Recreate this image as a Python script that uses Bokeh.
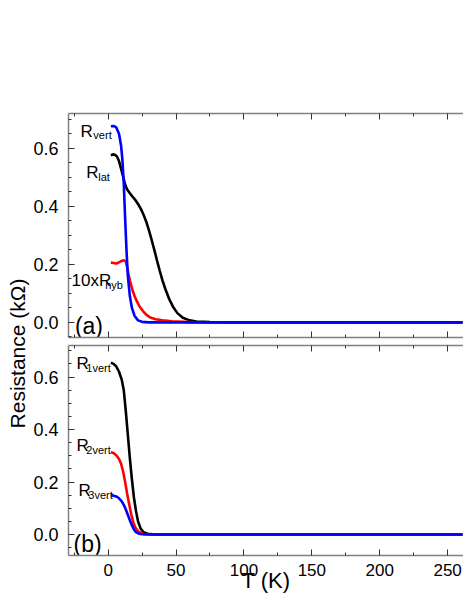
import math
from bokeh.plotting import figure
from bokeh.layouts import row, column
from bokeh.models import LinearAxis, FixedTicker
from bokeh.core.properties import value
from bokeh.embed import file_html
from bokeh.resources import INLINE

# ---------------- data ----------------
# panel (a)
t_vert = [2, 4, 6, 8, 9.5, 10.5, 11.5, 12.5, 13.5, 14.5, 16, 17.5, 19.5, 22, 25, 30, 40, 261]
r_vert = [0.676, 0.677, 0.672, 0.65, 0.61, 0.56, 0.48, 0.36, 0.25, 0.16, 0.09, 0.05, 0.022, 0.007, 0.002, 0, 0, 0]

t_lat = [2, 3.5, 5, 6.5, 8, 9.5, 11, 12.5, 14, 16, 18, 20, 22, 24, 26, 28, 30, 32, 34, 36, 38, 40, 42, 45, 48, 51, 55, 60, 65, 75, 90, 261]
r_lat = [0.576, 0.579, 0.578, 0.572, 0.556, 0.530, 0.503, 0.475, 0.458, 0.445, 0.433, 0.422, 0.408, 0.392, 0.372, 0.348,
         0.318, 0.285, 0.250, 0.213, 0.178, 0.145, 0.117, 0.080, 0.052, 0.032, 0.016, 0.007, 0.003, 0.001, 0, 0]

t_hyb = [2, 4, 6, 8, 10, 11.5, 13, 14, 15, 16, 17, 18, 19.5, 21, 23, 25.5, 28, 31, 35, 40, 47, 60, 261]
r_hyb10 = [0.206, 0.205, 0.203, 0.207, 0.212, 0.214, 0.21, 0.19, 0.167, 0.145, 0.128, 0.110, 0.090, 0.074, 0.056, 0.040,
           0.027, 0.017, 0.011, 0.007, 0.004, 0.001, 0]

# panel (b)
t_1vert = [2, 4, 6, 8, 10, 11.5, 13, 14.5, 16, 17.5, 19, 20.5, 22, 24, 26, 29, 35, 261]
r_1vert = [0.654, 0.65, 0.64, 0.62, 0.59, 0.55, 0.47, 0.38, 0.29, 0.21, 0.14, 0.09, 0.05, 0.022, 0.009, 0.003, 0, 0]

t_2vert = [2, 4, 6, 8, 9.5, 11, 12.5, 14, 15.5, 17, 18.5, 20, 22, 24, 27, 35, 261]
r_2vert = [0.314, 0.31, 0.302, 0.288, 0.27, 0.24, 0.20, 0.155, 0.115, 0.077, 0.047, 0.027, 0.012, 0.005, 0.001, 0, 0]

t_3vert = [2, 4, 6, 8, 10, 11.5, 13, 14.5, 16, 17.5, 19, 20.5, 22.5, 25, 30, 261]
r_3vert = [0.149, 0.148, 0.145, 0.138, 0.126, 0.113, 0.095, 0.075, 0.054, 0.035, 0.019, 0.009, 0.003, 0.001, 0, 0]

x_ticks = [0, 50, 100, 150, 200, 250]
x_minor = [-25, 25, 75, 125, 175, 225]
y_ticks = [0.0, 0.2, 0.4, 0.6]
y_tick_labels = ["0.0", "0.2", "0.4", "0.6"]

FONT = "Liberation Sans"
AXIS_COLOR = "#808080"
TICK_COLOR = "#333333"
X_RANGE = (-29.2, 261.7)


def style_axis(ax, labels=True, is_x=True):
    ax.axis_line_color = AXIS_COLOR
    ax.axis_line_width = 1.5
    ax.major_tick_in = 6
    ax.major_tick_out = 0
    ax.minor_tick_in = 3
    ax.minor_tick_out = 0
    ax.major_tick_line_color = TICK_COLOR
    ax.minor_tick_line_color = TICK_COLOR
    if is_x:
        ax.ticker = FixedTicker(ticks=x_ticks, minor_ticks=x_minor)
    else:
        ax.ticker = FixedTicker(ticks=y_ticks, minor_ticks=[i * 0.05 for i in range(-1, 15)])
        ax.major_label_overrides = dict(zip(y_ticks, y_tick_labels))
    ax.major_label_text_font = FONT
    ax.major_label_text_color = "black"
    if labels:
        ax.major_label_text_font_size = "17px" if is_x else "18px"
        ax.major_label_standoff = 8 if is_x else 10
    else:
        ax.major_label_overrides = {t: "" for t in x_ticks}
        ax.major_label_text_font_size = "1px"
        ax.major_label_standoff = 0


def make_panel(height, yr, border_top, border_bottom, x_labels):
    p = figure(width=433, height=height, x_range=X_RANGE, y_range=yr,
               output_backend="svg", toolbar_location=None,
               min_border_left=35, min_border_right=0,
               min_border_top=border_top, min_border_bottom=border_bottom,
               outline_line_color=None)
    p.xgrid.visible = False
    p.ygrid.visible = False
    bottom_ax = p.xaxis[0]
    style_axis(bottom_ax, labels=x_labels, is_x=True)
    style_axis(p.yaxis[0], labels=True, is_x=False)
    top_ax = LinearAxis()
    style_axis(top_ax, labels=False, is_x=True)
    p.add_layout(top_ax, "above")
    return p, bottom_ax


def sub_label(p, x, y, main, sx, sy, sub, color="black"):
    p.text(x=[x], y=[y], text=[main], text_font=value(FONT), text_font_size="17px",
           text_color=color, text_baseline="alphabetic", text_align="left")
    p.text(x=[sx], y=[sy], text=[sub], text_font=value(FONT), text_font_size="11px",
           text_color=color, text_baseline="alphabetic", text_align="left")


# ---------------- panel (a) ----------------
pa, _ = make_panel(341, (-0.052, 0.72), 113, 4, False)
pa.line(t_lat, r_lat, line_color="black", line_width=2.6)
pa.line(t_hyb, r_hyb10, line_color="#ff0000", line_width=2.6)
pa.line(t_vert, r_vert, line_color="#0000ff", line_width=2.6)
sub_label(pa, -20.4, 0.659, "R", -10.9, 0.645, "vert")
sub_label(pa, -16.1, 0.517, "R", -7.3, 0.50, "lat")
sub_label(pa, -27.0, 0.145, "10xR", -2.2, 0.128, "hyb")
pa.text(x=[-24.5], y=[-0.014], text=["(a)"], text_font=value(FONT), text_font_size="23px",
        text_baseline="alphabetic", text_align="left")

# ---------------- panel (b) ----------------
pb, pb_x = make_panel(258, (-0.08, 0.72), 4, 44, True)
pb.line(t_1vert, r_1vert, line_color="black", line_width=2.6)
pb.line(t_2vert, r_2vert, line_color="#ff0000", line_width=2.6)
pb.line(t_3vert, r_3vert, line_color="#0000ff", line_width=2.6)
sub_label(pb, -23.4, 0.653, "R", -16.1, 0.634, "1vert")
sub_label(pb, -23.4, 0.340, "R", -16.1, 0.321, "2vert")
sub_label(pb, -21.9, 0.168, "R", -14.6, 0.149, "3vert")
pb.text(x=[-25.5], y=[-0.038], text=["(b)"], text_font=value(FONT), text_font_size="23px",
        text_baseline="alphabetic", text_align="left")
pb_x.axis_label = "T (K)"
pb_x.axis_label_text_font = FONT
pb_x.axis_label_text_font_size = "22px"
pb_x.axis_label_text_font_style = "normal"
pb_x.axis_label_text_color = "black"
pb_x.axis_label_standoff = -11

# ---------------- y label strip ----------------
pl = figure(width=30, height=599, x_range=(0, 30), y_range=(0, 599), output_backend="svg",
            toolbar_location=None, x_axis_type=None, y_axis_type=None,
            min_border=0, outline_line_color=None)
pl.xgrid.visible = False
pl.ygrid.visible = False
pl.text(x=[17], y=[246], text=["Resistance (kΩ)"], angle=math.pi / 2,
        text_font=value(FONT), text_font_size="21px", text_align="center",
        text_baseline="middle", text_color="black")

layout = row(pl, column(pa, pb))
open("out.html", "w").write(file_html(layout, INLINE))
